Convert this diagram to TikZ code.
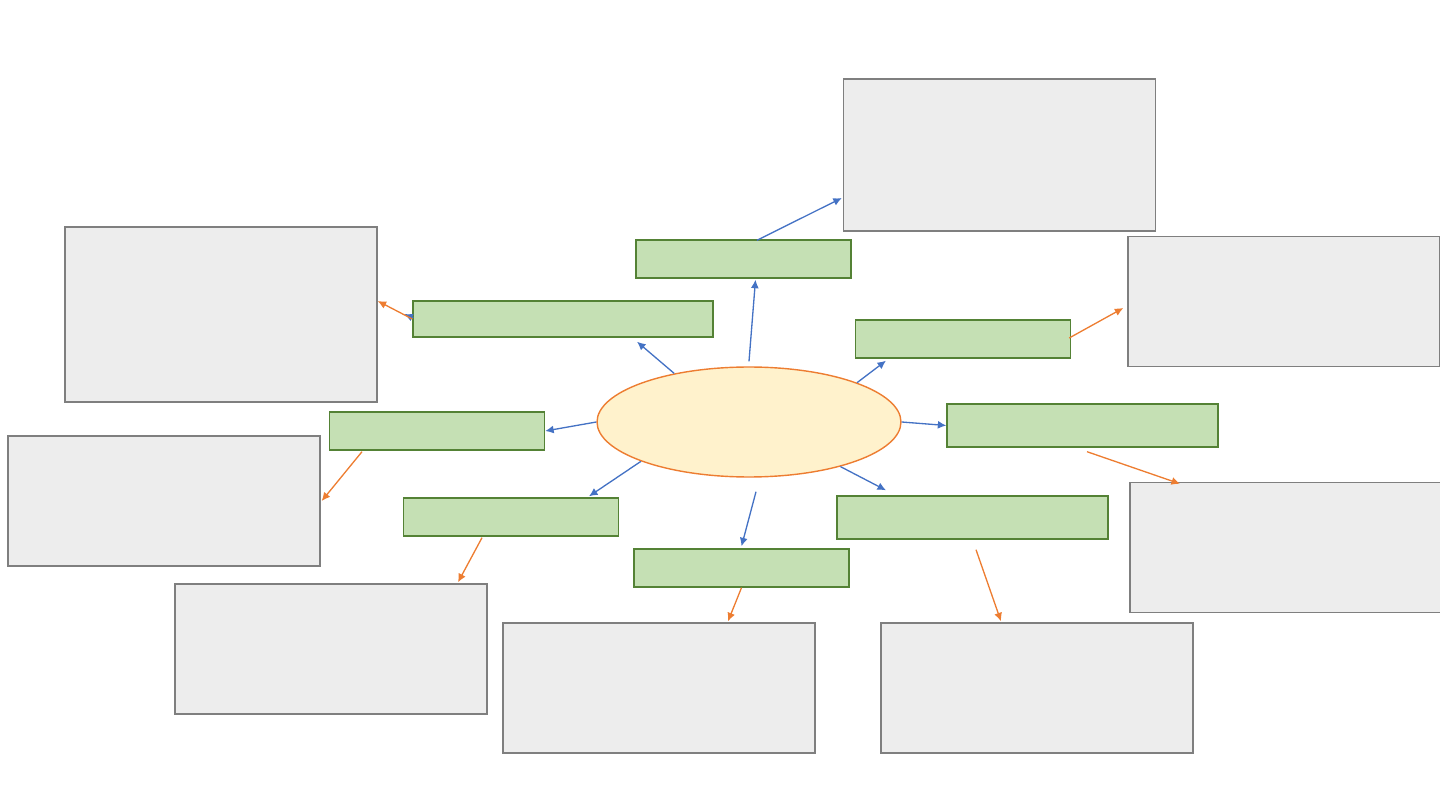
\documentclass[tikz,border=0pt]{standalone}
\usepackage{tikz}
\usetikzlibrary{arrows.meta,positioning,shapes.geometric}
\definecolor{leaf}{HTML}{C5E0B4}
\definecolor{leafline}{HTML}{548235}
\definecolor{paper}{HTML}{EDEDED}
\definecolor{paperline}{HTML}{7F7F7F}
\definecolor{cream}{HTML}{FFF2CC}
\definecolor{orange}{HTML}{ED7D31}
\definecolor{blue}{HTML}{4472C4}
\tikzset{
  topic/.style={
    draw=leafline, fill=leaf, line width=0.8pt,
    inner sep=0pt, minimum width=4.30cm, minimum height=0.76cm
  },
  note/.style={
    draw=paperline, fill=paper, line width=0.8pt,
    inner sep=0pt, minimum width=6.24cm, minimum height=2.60cm
  },
  bluearr/.style={-{Latex[length=1.7mm,width=1.6mm]}, line width=0.75pt, draw=blue},
  orangearr/.style={-{Latex[length=1.7mm,width=1.6mm]}, line width=0.75pt, draw=orange}
}
\begin{document}
\begin{tikzpicture}[x=0.02cm, y=-0.02cm,
        hub/.style={ellipse, draw=orange, fill=cream, line width=0.8pt,
          inner sep=0pt, minimum width=6.08cm, minimum height=2.20cm},
        widetopic/.style={topic, minimum width=5.42cm, minimum height=0.86cm}
      ]
        \useasboundingbox (0,0) rectangle (1440,810);
        % centre
        \node[hub] (ell) at (749,422) {};
        % first ring
        \node[topic] (g1) at (743.5,259) {};
        \node[topic, minimum width=6.00cm, minimum height=0.72cm] (g2) at (563,319) {};
        \node[topic] (g3) at (963,339) {};
        \node[topic] (g4) at (437,431) {};
        \node[widetopic] (g5) at (1082.5,425.5) {};
        \node[topic] (g6) at (511,517) {};
        \node[topic] (g7) at (741.5,568) {};
        \node[widetopic] (g8) at (972.5,517.5) {};
        % outer notes
        \node[note, minimum height=3.04cm] (b1) at (999.5,155) {};
        \node[note] (b2) at (1284,301.5) {};
        \node[note, minimum height=3.50cm] (b3) at (221,314.5) {};
        \node[note] (b4) at (164,501) {};
        \node[note] (b5) at (331,649) {};
        \node[note] (b6) at (659,688) {};
        \node[note] (b7) at (1037,688) {};
        \node[note] (b8) at (1286,547.5) {};
        % centre to first ring
        \draw[bluearr] ([shift={(0,-5)}]ell.north) -- ([shift={(12,1)}]g1.south);
        \draw[bluearr] (ell.147) -- ([shift={(74,4)}]g2.south);
        \draw[bluearr] (ell.20) -- ([shift={(-77,2)}]g3.south);
        \draw[bluearr] (ell.west) -- (g4.east);
        \draw[bluearr] (ell.east) -- (g5.west);
        \draw[bluearr] (ell.200) -- ([shift={(78,-1)}]g6.north);
        \draw[bluearr] ([shift={(7,14)}]ell.south) -- ([shift={(0,-2)}]g7.north);
        \draw[bluearr] (ell.334) -- ([shift={(-86.5,-5)}]g8.north);
        \draw[bluearr] ([shift={(13.5,1)}]g1.north) -- ([shift={(-1,43)}]b1.west);
        \draw[bluearr] ([shift={(1,-1)}]g2.west) -- ([shift={(-8,-5)}]g2.west);
        % first ring to notes
        \draw[orangearr] (g2.west) -- ([shift={(0,-13.5)}]b3.east);
        \draw[orangearr] ([shift={(-2,-1)}]g3.east) -- ([shift={(-4,6.5)}]b2.west);
        \draw[orangearr] ([shift={(-75,1)}]g4.south) -- ([shift={(1,0)}]b4.east);
        \draw[orangearr] ([shift={(-29,1)}]g6.south) -- ([shift={(127,-1)}]b5.north);
        \draw[orangearr] (g7.south) -- ([shift={(69,-1)}]b6.north);
        \draw[orangearr] ([shift={(3.5,10)}]g8.south) -- ([shift={(-36,-1)}]b7.north);
        \draw[orangearr] ([shift={(4.5,4)}]g5.south) -- ([shift={(-106,2)}]b8.north);
      \end{tikzpicture}
\end{document}
